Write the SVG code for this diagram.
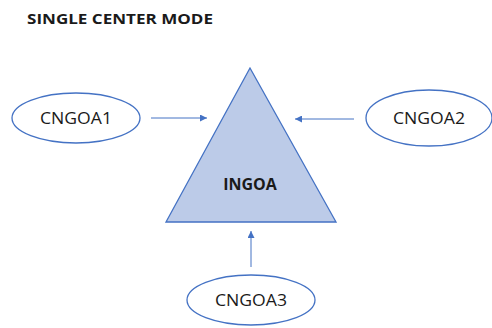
<svg xmlns="http://www.w3.org/2000/svg" width="492" height="328" viewBox="0 0 492 328">
  <style>
    .node { fill: #ffffff; stroke: #4472c4; stroke-width: 1.3; }
    .label { font-family: "Open Sans", "Liberation Sans", sans-serif; font-size: 17px; fill: #1a1a1a; text-anchor: middle; }
    .edge { stroke: #4472c4; stroke-width: 1; fill: none; marker-end: url(#arrow); }
    .title { font-family: "Open Sans", "Liberation Sans", sans-serif; font-size: 14px; font-weight: bold; fill: #1a1a1a; }
  </style>
  <defs>
    <marker id="arrow" viewBox="0 0 10 10" refX="10" refY="5" markerWidth="7" markerHeight="7" markerUnits="userSpaceOnUse" orient="auto">
      <path d="M0,0 L10,5 L0,10 z" fill="#4472c4"/>
    </marker>
  </defs>
  <rect width="492" height="328" fill="#ffffff"/>
  <text class="title" x="27" y="24" textLength="186" lengthAdjust="spacingAndGlyphs">SINGLE CENTER MODE</text>

  <g id="ingoa">
    <polygon points="250,68 166,222 336,222" fill="#bccbe8" stroke="#4472c4" stroke-width="1.3"/>
    <text x="250" y="190" font-family="'Open Sans', 'Liberation Sans', sans-serif" font-size="16" font-weight="bold" fill="#1a1a1a" text-anchor="middle">INGOA</text>
  </g>

  <g id="cngoa1">
    <ellipse class="node" cx="76" cy="118" rx="64" ry="25"/>
    <text class="label" x="76" y="124" textLength="72" lengthAdjust="spacingAndGlyphs">CNGOA1</text>
  </g>

  <g id="cngoa2">
    <ellipse class="node" cx="429" cy="118" rx="63" ry="28"/>
    <text class="label" x="429" y="124" textLength="72" lengthAdjust="spacingAndGlyphs">CNGOA2</text>
  </g>

  <g id="cngoa3">
    <ellipse class="node" cx="251" cy="300" rx="64" ry="25"/>
    <text class="label" x="251" y="306" textLength="72" lengthAdjust="spacingAndGlyphs">CNGOA3</text>
  </g>

  <g id="connectors">
    <line class="edge" x1="151" y1="118" x2="207" y2="118"/>
    <line class="edge" x1="354" y1="119" x2="295" y2="119"/>
    <line class="edge" x1="251" y1="267" x2="251" y2="231"/>
  </g>
</svg>
